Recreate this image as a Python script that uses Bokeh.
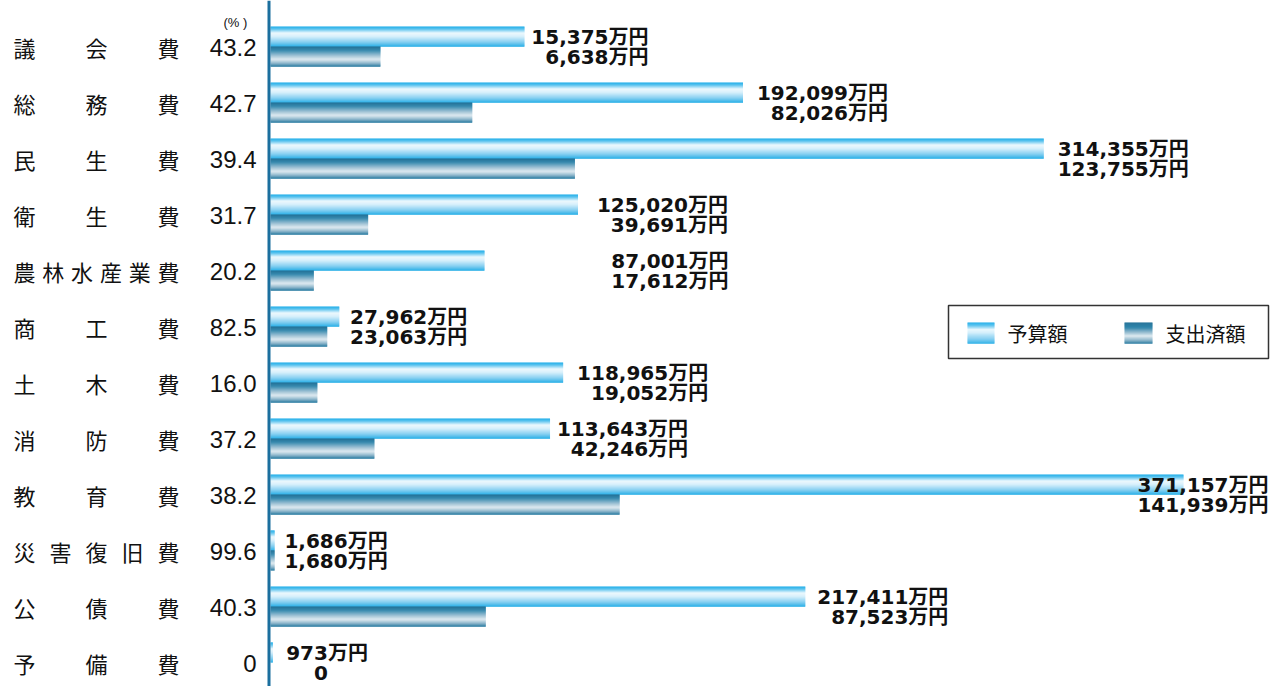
import numpy as np
from bokeh.plotting import figure
from bokeh.models import Range1d, Span
from bokeh.core.properties import value
from bokeh.embed import file_html
from bokeh.resources import INLINE

# ---------------- data ----------------
categories = ["議会費", "総務費", "民生費", "衛生費", "農林水産業費", "商工費",
              "土木費", "消防費", "教育費", "災害復旧費", "公債費", "予備費"]
rates = ["43.2", "42.7", "39.4", "31.7", "20.2", "82.5",
         "16.0", "37.2", "38.2", "99.6", "40.3", "0"]
budget = [15375, 192099, 314355, 125020, 87001, 27962,
          118965, 113643, 371157, 1686, 217411, 973]      # 予算額（万円）
spent = [6638, 82026, 123755, 39691, 17612, 23063,
         19052, 42246, 141939, 1680, 87523, 0]            # 支出済額（万円）
# the reference draws the 議会費 bars longer than their labelled values
bar_budget = [103250] + budget[1:]
bar_spent = [44700] + spent[1:]

legend_names = ["予算額", "支出済額"]

# ---------------- layout / style ----------------
W, H = 1281, 686
K = 371157 / 913.0          # value units per pixel
ROW = 56.0                  # pixels per category row
ORIGIN_PX = 270             # figure pixel of value 0
TOP_PX = 46                 # figure pixel of first row centre

label_dx = [124, 145, 145, 150, 244, 128, 145, 138, 85, 113, 143, 95]
spent_dx = label_dx[:-1] + [55]

def lerp_colors(stops, n):
    ts = np.array([s[0] for s in stops])
    rgb = np.array([[int(c[1:3], 16), int(c[3:5], 16), int(c[5:7], 16)] for _, c in stops], float)
    out = []
    for j in range(n):
        t = (j + 0.5) / n
        col = [np.interp(t, ts, rgb[:, k]) for k in range(3)]
        out.append("#%02x%02x%02x" % tuple(int(round(v)) for v in col))
    return out

budget_stops = [(0.0, "#00a3e6"), (0.12, "#3cb8ec"), (0.33, "#eaf7fd"),
                (0.5, "#d2eefb"), (0.8, "#6fc6ee"), (1.0, "#0ea6e4")]
spent_stops = [(0.0, "#005a85"), (0.2, "#1d7aa4"), (0.45, "#8fb8cd"),
               (0.65, "#dbe8ef"), (0.85, "#7aa9c2"), (1.0, "#0c6994")]
NSTRIP = 20
bud_cols = lerp_colors(budget_stops, NSTRIP)
sp_cols = lerp_colors(spent_stops, NSTRIP)

p = figure(width=W, height=H, output_backend="svg", toolbar_location=None,
           x_axis_type=None, y_axis_type=None, min_border=0,
           x_range=Range1d(-ORIGIN_PX * K, (W - ORIGIN_PX) * K),
           y_range=Range1d(start=(H - TOP_PX) / ROW, end=-TOP_PX / ROW))
p.outline_line_color = None
p.background_fill_color = "white"
p.border_fill_color = "white"

rows = np.arange(len(categories), dtype=float)

# gradient bars built from thin strips
for j in range(NSTRIP):
    p.hbar(y=rows + (-20 + j + 0.5) / ROW, left=0, right=bar_budget,
           height=1.25 / ROW, fill_color=bud_cols[j], line_color=None)
for j in range(NSTRIP):
    p.hbar(y=rows + (j + 0.5) / ROW, left=0, right=bar_spent,
           height=1.25 / ROW, fill_color=sp_cols[j], line_color=None)

# axis line
p.add_layout(Span(location=-1.5 * K, dimension="height",
                  line_color="#1b6f9e", line_width=3))

# value labels
num_font = value("DejaVu Sans, Noto Sans CJK JP")
p.text(x=bar_budget, y=rows - 10 / ROW, x_offset=label_dx,
       text=["{:,}万円".format(v) for v in budget],
       text_align="right", text_baseline="middle", text_font=num_font,
       text_font_size=value("20px"), text_font_style="bold", text_color="#111111")
p.text(x=bar_budget, y=rows + 10 / ROW, x_offset=spent_dx,
       text=["{:,}万円".format(v) if v else "0" for v in spent],
       text_align="right", text_baseline="middle", text_font=num_font,
       text_font_size=value("20px"), text_font_style="bold", text_color="#111111")

# category names, justified between two columns
cx, cy, ct = [], [], []
for i, name in enumerate(categories):
    n = len(name)
    for k, ch in enumerate(name):
        cx.append(24 + k * 144.0 / (n - 1) - ORIGIN_PX)
        cy.append(i + 0.5 / ROW)
        ct.append(ch)
p.text(x=0, y=cy, x_offset=cx, text=ct, text_align="center", text_baseline="middle",
       text_font=value("Noto Sans CJK JP"), text_font_size=value("22px"),
       text_color="#111111")

# rates
p.text(x=0, y=rows + 1 / ROW, x_offset=-14, text=rates, text_align="right",
       text_baseline="middle", text_font=value("Liberation Sans"),
       text_font_size=value("24px"), text_color="#111111")
p.text(x=[0], y=[-24 / ROW], x_offset=-47, text=["(% )"], text_align="left",
       text_baseline="middle", text_font=value("Liberation Sans"),
       text_font_size=value("13px"), text_color="#111111")

# legend (drawn by hand so the swatches keep the gradient)
def px_x(ix):
    return (ix - ORIGIN_PX) * K

def px_y(iy):
    return (iy - TOP_PX) / ROW

p.quad(left=[px_x(948)], right=[px_x(1268)], top=[px_y(305)], bottom=[px_y(358)],
       fill_color="white", line_color="#333333", line_width=1.5)
for (x0, x1, cols) in [(967, 994, bud_cols), (1124, 1152, sp_cols)]:
    n = len(cols)
    h = 21.0 / n
    for j in range(n):
        p.quad(left=[px_x(x0)], right=[px_x(x1)],
               top=[px_y(322 + j * h)], bottom=[px_y(322 + (j + 1) * h + 0.2)],
               fill_color=cols[j], line_color=None)
p.text(x=[px_x(1007), px_x(1165)], y=[px_y(333), px_y(333)], text=legend_names,
       text_align="left", text_baseline="middle", text_font=value("Noto Sans CJK JP"),
       text_font_size=value("20px"), text_color="#111111")

with open("out.html", "w", encoding="utf-8") as f:
    f.write(file_html(p, INLINE, title="歳出予算執行状況"))
